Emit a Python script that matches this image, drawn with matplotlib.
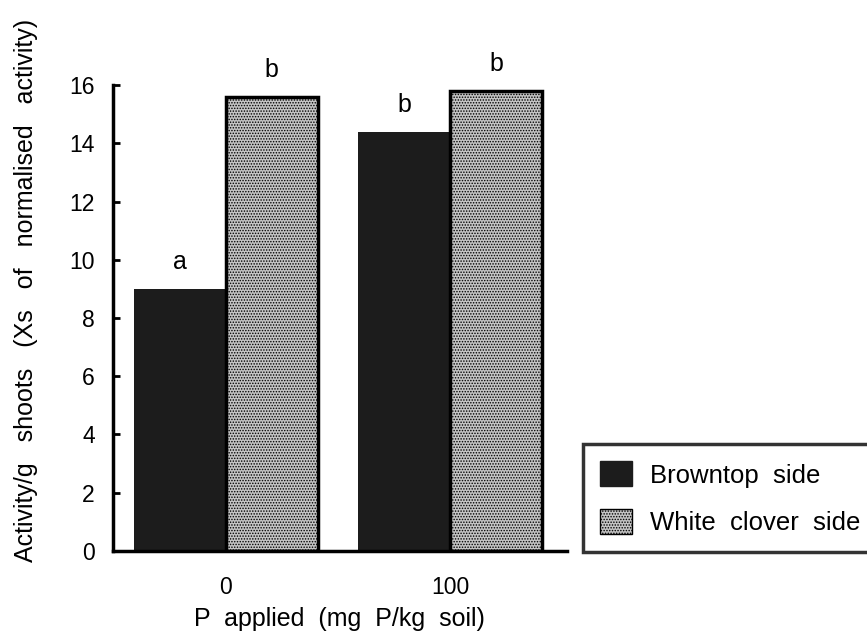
import numpy as np
import matplotlib.pyplot as plt
from matplotlib.patches import Patch

#######################################################
P_Levels      = ['0', '100']
Browntop      = [9.0, 14.4]
White_Clover  = [15.6, 15.8]
Browntop_Sig  = ['a', 'b']
Clover_Sig    = ['b', 'b']
Y_Ticks       = [0, 2, 4, 6, 8, 10, 12, 14, 16]
#######################################################

plt.rcParams['font.family'] = ['Liberation Sans', 'DejaVu Sans']
plt.rcParams['hatch.linewidth'] = 0.7

FS = 18

fig = plt.figure(figsize=(8.67, 6.31), dpi=100)
ax = fig.add_axes([0.130, 0.127, 0.524, 0.738])

x = np.arange(len(P_Levels))
w = 0.41

b1 = ax.bar(x - w / 2, Browntop, width=w, color='#1c1c1c', edgecolor='#1c1c1c',
            linewidth=0)
b2 = ax.bar(x + w / 2, White_Clover, width=w, color='#c4c4c4', edgecolor='black',
            hatch='......', linewidth=2.5)

# significance letters above each bar
for xi, h, s in zip(x - w / 2, Browntop, Browntop_Sig):
    ax.text(xi, h + 0.5, s, ha='center', va='bottom', fontsize=FS, clip_on=False)
for xi, h, s in zip(x + w / 2, White_Clover, Clover_Sig):
    ax.text(xi, h + 0.5, s, ha='center', va='bottom', fontsize=FS, clip_on=False)

ax.set_xlim(-0.504, 1.52)
ax.set_ylim(0, 16)
ax.set_yticks(Y_Ticks)
ax.set_yticklabels([str(t) for t in Y_Ticks], fontsize=16.5)
ax.set_xticks(x)
ax.set_xticklabels(P_Levels, fontsize=16.5)
ax.tick_params(axis='y', direction='in', length=5, width=2, pad=13)
ax.tick_params(axis='x', length=0, pad=18)

for side in ['top', 'right']:
    ax.spines[side].set_visible(False)
for side in ['left', 'bottom']:
    ax.spines[side].set_linewidth(2.5)

ax.set_ylabel('Activity/g   shoots   (Xs   of   normalised   activity)', fontsize=FS)
ax.yaxis.set_label_coords(-0.165, 0.56)
ax.set_xlabel('P  applied  (mg  P/kg  soil)', fontsize=FS, labelpad=6)

handles = [Patch(facecolor='#1c1c1c', edgecolor='#1c1c1c', label='Browntop  side'),
           Patch(facecolor='#c4c4c4', edgecolor='black', hatch='......', label='White  clover  side')]
leg = fig.legend(handles=handles, loc='lower left', bbox_to_anchor=(0.672, 0.125),
                 fontsize=18.5, frameon=True, fancybox=False, edgecolor='black',
                 handlelength=1.25, handleheight=1.1, handletextpad=0.7,
                 borderpad=0.67, labelspacing=0.83, borderaxespad=0)
leg.get_frame().set_linewidth(2.5)

fig.savefig('out.png', dpi=100)
